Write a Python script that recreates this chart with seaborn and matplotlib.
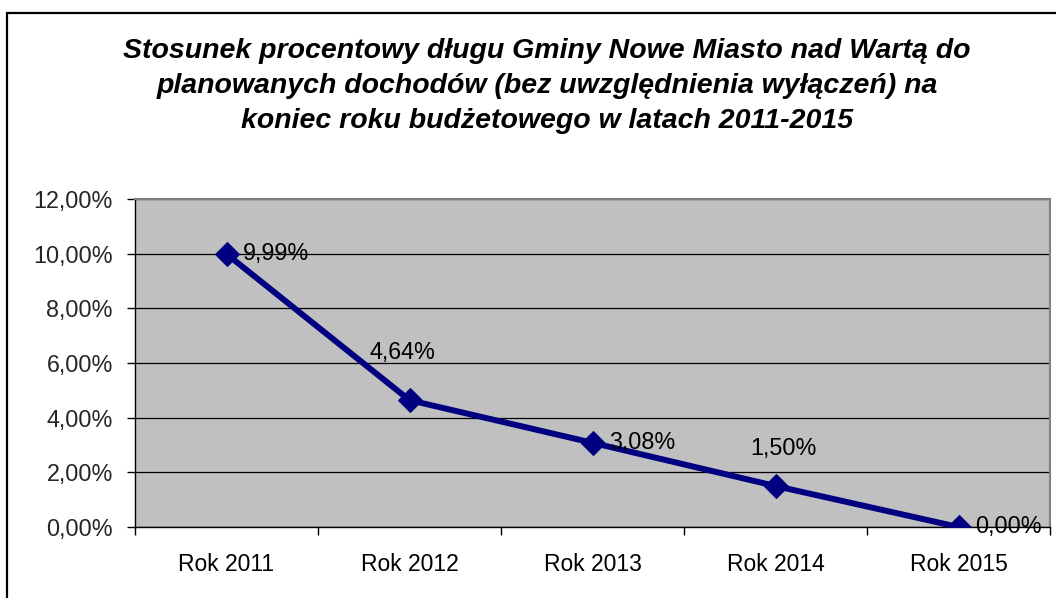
import matplotlib
matplotlib.use("Agg")
import matplotlib.pyplot as plt
import seaborn as sns
import pandas as pd
from matplotlib.patches import Rectangle
from matplotlib.ticker import FuncFormatter, FixedLocator

categories = ["Rok 2011", "Rok 2012", "Rok 2013", "Rok 2014", "Rok 2015"]
values = [9.99, 4.64, 3.08, 1.50, 0.00]
labels = ["9,99%", "4,64%", "3,08%", "1,50%", "0,00%"]
title = ("Stosunek procentowy długu Gminy Nowe Miasto nad Wartą do\n"
         "planowanych dochodów (bez uwzględnienia wyłączeń) na\n"
         "koniec roku budżetowego w latach 2011-2015")

# label placement (offset in points, horizontal alignment)
label_offsets = [(12, 0, "left"), (-5, 34, "center"), (12, 0, "left"),
                 (6, 27, "center"), (12, 0, "left")]

sns.set_style("white")
plt.rcParams["font.family"] = ["Liberation Sans", "DejaVu Sans"]

df = pd.DataFrame({"rok": categories, "v": values})

fig = plt.figure(figsize=(10.56, 5.98), dpi=100)
ax = fig.add_axes([135/1056, 1-527/598, (1050-135)/1056, (527-199)/598])
ax.set_facecolor("#C0C0C0")

sns.lineplot(data=df, x="rok", y="v", ax=ax, color="#000080", linewidth=4.3,
             marker="D", markersize=12.5, markeredgecolor="#000080",
             markerfacecolor="#000080", sort=False, zorder=5)

ax.set_xlim(-0.5, 4.5)
ax.set_ylim(0, 12)
ax.set_yticks([0, 2, 4, 6, 8, 10, 12])
ax.yaxis.set_major_formatter(FuncFormatter(lambda v, p: f"{v:.2f}".replace(".", ",") + "%"))
ax.grid(axis="y", color="#000000", linewidth=0.9)
ax.set_axisbelow(True)
ax.set_xlabel("")
ax.set_ylabel("")

ax.set_xticks(range(len(categories)))
ax.set_xticklabels(categories)
ax.xaxis.set_minor_locator(FixedLocator([i - 0.5 for i in range(len(categories) + 1)]))
ax.tick_params(axis="x", which="major", length=0, pad=19, labelsize=16.5, colors="#000000")
ax.tick_params(axis="x", which="minor", length=6, width=1, color="#000000", direction="out")
ax.tick_params(axis="y", which="major", length=6, width=1, color="#000000", direction="out",
               pad=10, labelsize=16.8)
ax.tick_params(axis="y", left=True)
ax.tick_params(axis="x", which="minor", bottom=True)

for s in ["left", "bottom"]:
    ax.spines[s].set_color("#000000")
    ax.spines[s].set_linewidth(1.0)
for s in ["top", "right"]:
    ax.spines[s].set_color("#808080")
    ax.spines[s].set_linewidth(1.5)

for i, (v, lab, (dx, dy, ha)) in enumerate(zip(values, labels, label_offsets)):
    ax.annotate(lab, (i, v), xytext=(dx, dy), textcoords="offset points",
                ha=ha, va="center", fontsize=16.8, color="#000000", zorder=6)

fig.text(547/1056, 1-38/598, title, ha="center", va="top", fontsize=20.5,
         fontweight="bold", fontstyle="italic", linespacing=1.45, color="#000000")

fig.patches.append(Rectangle((7/1056, -0.1), 1.2, 1-13/598+0.1, transform=fig.transFigure,
                             fill=False, edgecolor="#000000", linewidth=1.6, figure=fig))

fig.savefig("out.png", dpi=100)
